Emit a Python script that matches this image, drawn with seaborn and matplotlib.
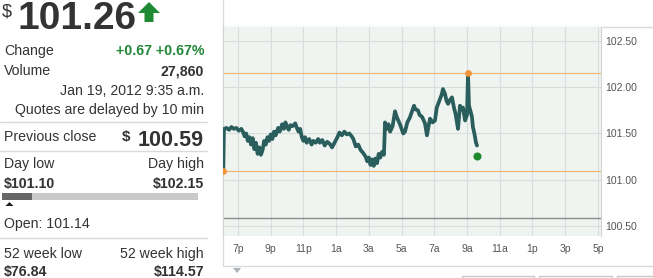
import matplotlib
matplotlib.use("Agg")
import matplotlib.pyplot as plt
import seaborn as sns
import pandas as pd
from matplotlib.patches import Polygon, Rectangle

# ---- data (hours after 6 p.m. on Jan 18, price in $) ----
hours = [0.10, 0.14, 0.30, 0.45, 0.60, 0.75, 0.90, 1.05, 1.20, 1.30, 1.40, 1.50, 1.60, 1.70,
         1.80, 1.90, 2.00, 2.10, 2.20, 2.30, 2.40, 2.50, 2.60, 2.70, 2.80, 2.90, 3.00, 3.10,
         3.20, 3.30, 3.45, 3.55, 3.70, 3.80, 3.90, 4.00, 4.10, 4.20, 4.35, 4.50, 4.60, 4.70,
         4.80, 4.90, 5.00, 5.10, 5.20, 5.35, 5.50, 5.60, 5.75, 5.90, 6.00, 6.15, 6.30, 6.45,
         6.60, 6.75, 6.90, 7.05, 7.20, 7.35, 7.50, 7.65, 7.80, 7.95, 8.05, 8.20, 8.35, 8.50,
         8.65, 8.80, 8.90, 9.00, 9.10, 9.20, 9.30, 9.40, 9.50, 9.60, 9.70, 9.80, 9.92, 9.99,
         10.10, 10.20, 10.30, 10.45, 10.60, 10.70, 10.80, 10.90, 11.00, 11.10, 11.21, 11.35,
         11.50, 11.60, 11.76, 11.85, 12.00, 12.10, 12.25, 12.43, 12.55, 12.65, 12.74, 12.90,
         13.04, 13.15, 13.30, 13.45, 13.53, 13.65, 13.75, 13.84, 13.95, 14.08, 14.20, 14.30,
         14.45, 14.57, 14.65, 14.75, 14.88, 15.00, 15.06, 15.12, 15.20, 15.30, 15.36, 15.45,
         15.50, 15.55, 15.61]
prices = [101.10, 101.55, 101.56, 101.54, 101.57, 101.55, 101.56, 101.53, 101.55, 101.52,
          101.47, 101.50, 101.42, 101.46, 101.38, 101.45, 101.33, 101.40, 101.28, 101.35,
          101.27, 101.32, 101.42, 101.38, 101.46, 101.42, 101.49, 101.44, 101.52, 101.48,
          101.56, 101.52, 101.60, 101.55, 101.62, 101.57, 101.54, 101.59, 101.58, 101.61,
          101.56, 101.52, 101.55, 101.46, 101.42, 101.46, 101.40, 101.44, 101.38, 101.42,
          101.40, 101.44, 101.40, 101.43, 101.37, 101.41, 101.39, 101.35, 101.40, 101.45,
          101.51, 101.48, 101.52, 101.49, 101.50, 101.47, 101.44, 101.36, 101.38, 101.32,
          101.29, 101.25, 101.20, 101.24, 101.16, 101.22, 101.15, 101.23, 101.18, 101.28,
          101.24, 101.30, 101.27, 101.62, 101.55, 101.60, 101.52, 101.58, 101.74, 101.68,
          101.64, 101.60, 101.55, 101.50, 101.52, 101.62, 101.67, 101.72, 101.80, 101.76,
          101.75, 101.70, 101.68, 101.61, 101.48, 101.58, 101.66, 101.62, 101.64, 101.78,
          101.85, 101.92, 101.98, 101.93, 101.85, 101.82, 101.86, 101.89, 101.78, 101.71,
          101.55, 101.80, 101.76, 101.78, 101.64, 101.70, 102.15, 101.80, 101.75, 101.68,
          101.57, 101.50, 101.45, 101.40, 101.37]

xtick_hours = [1, 3, 5, 7, 9, 11, 13, 15, 17, 19, 21, 23]
xtick_labels = ["7p", "9p", "11p", "1a", "3a", "5a", "7a", "9a", "11a", "1p", "3p", "5p"]
ytick_values = [100.50, 101.00, 101.50, 102.00, 102.50]

last_price = 101.26
last_hour = 15.63
change_text = "+0.67 +0.67%"
volume_text = "27,860"
date_text = "Jan 19, 2012 9:35 a.m."
delay_text = "Quotes are delayed by 10 min"
prev_close = 100.59
day_low = 101.10
day_high = 102.15
day_low_hour = 0.10
day_high_hour = 15.06
open_price = 101.14
week52_low = 76.84
week52_high = 114.57

# ---- figure ----
sns.set_theme(style="white")
plt.rcParams["font.family"] = ["Liberation Sans", "DejaVu Sans"]

W, H = 653, 278
fig = plt.figure(figsize=(W / 100, H / 100), dpi=100)
fig.patch.set_facecolor("white")

ov = fig.add_axes([0, 0, 1, 1])
ov.set_xlim(0, W)
ov.set_ylim(H, 0)
ov.axis("off")

dark = "#333333"
green = "#23873a"
kw = dict(parse_math=False, va="baseline")
FS = 10.2

# header price
ov.text(2, 17, "$", fontsize=13, color=dark, **kw)
ov.text(17, 29, f"{last_price:.2f}", fontsize=28, fontweight="bold", color=dark, **kw)
ov.add_patch(Polygon([[138, 13], [149, 2], [160, 13], [153.5, 13], [153.5, 22],
                      [144.5, 22], [144.5, 13]], closed=True, color="#1e8a34", lw=0))

RX = 204
ov.text(4, 55, "Change", fontsize=FS, color=dark, **kw)
ov.text(RX, 55, change_text, fontsize=FS, fontweight="bold", color=green, ha="right", **kw)
ov.text(4, 75, "Volume", fontsize=FS, color=dark, **kw)
ov.text(RX, 75, volume_text, fontsize=FS, fontweight="bold", color=dark, ha="right", **kw)
ov.text(RX, 95, date_text, fontsize=FS, color=dark, ha="right", **kw)
ov.text(RX, 114, delay_text, fontsize=FS, color=dark, ha="right", **kw)

sep = "#d6dbde"
for yy in (122, 151, 238):
    ov.plot([0, 207], [yy, yy], color=sep, lw=1)

ov.text(4, 141, "Previous close", fontsize=FS, color=dark, **kw)
ov.text(RX, 146, f"{prev_close:.2f}", fontsize=15.5, fontweight="bold", color=dark, ha="right", **kw)
ov.text(122, 141, "$", fontsize=11, fontweight="bold", color=dark, **kw)

ov.text(4, 168, "Day low", fontsize=FS, color=dark, **kw)
ov.text(RX, 168, "Day high", fontsize=FS, color=dark, ha="right", **kw)
ov.text(4, 188, f"${day_low:.2f}", fontsize=FS, fontweight="bold", color=dark, **kw)
ov.text(RX, 188, f"${day_high:.2f}", fontsize=FS, fontweight="bold", color=dark, ha="right", **kw)

bx, bw = 2, 196
ov.add_patch(Rectangle((bx, 193), bw, 7, color="#c9c9c9", lw=0))
frac = (last_price - day_low) / (day_high - day_low)
ov.add_patch(Rectangle((bx, 193), bw * frac, 7, color="#666666", lw=0))
ox = bx + bw * (open_price - day_low) / (day_high - day_low)
ov.add_patch(Polygon([[ox - 4, 206], [ox, 202], [ox + 4, 206]], closed=True, color="#222222", lw=0))
ov.text(4, 228, f"Open: {open_price:.2f}", fontsize=FS, color=dark, **kw)

ov.text(4, 258, "52 week low", fontsize=FS, color=dark, **kw)
ov.text(RX, 258, "52 week high", fontsize=FS, color=dark, ha="right", **kw)
ov.text(4, 276, f"${week52_low:.2f}", fontsize=FS, fontweight="bold", color=dark, **kw)
ov.text(RX, 276, f"${week52_high:.2f}", fontsize=FS, fontweight="bold", color=dark, ha="right", **kw)

# chart frame
frame = "#d9dcdc"
ov.plot([222.5, 222.5], [0, 265], color=frame, lw=1)
ov.plot([222.5, W], [26.5, 26.5], color=frame, lw=1)
ov.plot([222.5, W], [265.5, 265.5], color=frame, lw=1)
ov.add_patch(Polygon([[233, 268], [241, 268], [237, 273]], closed=True, color="#a9b3b8", lw=0))
for x0, x1 in ((462, 534), (539, 612), (617, 660)):
    ov.add_patch(Rectangle((x0, 275.5), x1 - x0, 20, fill=False, edgecolor="#c8c8c8", lw=1))

# ---- chart ----
L, R, T, B = 223, 601, 27, 236
ax = fig.add_axes([L / W, 1 - B / H, (R - L) / W, (B - T) / H])
ax.set_facecolor("#eff4f1")
df = pd.DataFrame({"hour": hours, "price": prices})
ax.axhline(day_high, color="#f3b676", lw=0.9, zorder=1)
ax.axhline(day_low, color="#f3b676", lw=0.9, zorder=1)
ax.axhline(prev_close, color="#8c8f8e", lw=1.0, zorder=1)
sns.lineplot(data=df, x="hour", y="price", ax=ax, color="#2a5e5d", lw=2.7, zorder=3)
ax.scatter([day_low_hour, day_high_hour], [day_low, day_high], s=24, color="#f0943a", zorder=4, lw=0)
ax.scatter([last_hour], [last_price], s=34, color="#1f8a2c", zorder=5, lw=0)

ax.set_xlim(0.083, 23.19)
ax.set_ylim(100.393, 102.65)
ax.set_xticks(xtick_hours)
ax.set_xticklabels(xtick_labels)
ax.set_yticks(ytick_values)
ax.set_yticklabels([f"{v:.2f}" for v in ytick_values])
ax.yaxis.tick_right()
ax.set_xlabel("")
ax.set_ylabel("")
ax.grid(True, color="#d7dedb", lw=0.8, zorder=0)
ax.set_axisbelow(True)
ax.tick_params(length=0, labelsize=7.5, colors="#555555")
ax.tick_params(axis="x", pad=6)
ax.tick_params(axis="y", pad=3)
for lab in ax.get_xticklabels() + ax.get_yticklabels():
    lab.set_family(["Liberation Sans Narrow", "DejaVu Sans Condensed", "Liberation Sans"])
for s in ("left", "right"):
    ax.spines[s].set_color("#cfd5d2")
    ax.spines[s].set_linewidth(0.8)
ax.spines["top"].set_visible(False)
ax.spines["bottom"].set_visible(False)

fig.savefig("out.png", dpi=100)
